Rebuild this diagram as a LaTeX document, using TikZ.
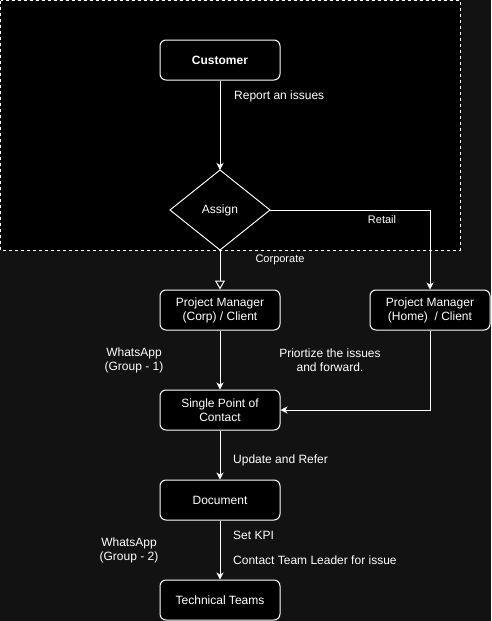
\documentclass[tikz,border=0pt]{standalone}
\usepackage{fontspec}
\setmainfont{Liberation Sans}
\usetikzlibrary{arrows.meta}
\definecolor{pagebg}{HTML}{121212}
\begin{document}
\begin{tikzpicture}[x=1pt,y=-1pt,
  every node/.style={text=white},
  box/.style={draw=white, fill=black, line width=1pt, rounded corners=6pt,
    minimum width=120pt, minimum height=40pt, inner sep=0pt, align=center,
    font=\fontsize{12}{14}\selectfont},
  decision/.style={draw=white, fill=black, line width=1pt, shape=coordinate},
  lbl/.style={font=\fontsize{12}{14}\selectfont, inner sep=0pt, align=center},
  smalllbl/.style={font=\fontsize{11}{13}\selectfont, inner sep=0pt},
  link/.style={draw=white, line width=1pt, -{Stealth[length=7pt,width=7pt,inset=2pt]}},
  openlink/.style={draw=white, line width=1pt, -{Triangle[open,length=9pt,width=10pt,fill=pagebg]}}
]
% canvas and dashed intake region
\fill[pagebg] (0,0) rectangle (491,621);
\useasboundingbox (0,0) rectangle (491,621);
\draw[white, fill=black, line width=1pt, dash pattern=on 3pt off 3pt] (0.5,0.5) rectangle (460,250);

% nodes
\node[box, font=\fontsize{12}{14}\selectfont\bfseries] (cust) at (220,60) {Customer};
\coordinate (assignN) at (220,170);
\coordinate (assignE) at (270,210);
\coordinate (assignS) at (220,250);
\coordinate (assignW) at (170,210);
\draw[white, fill=black, line width=1pt] (assignN) -- (assignE) -- (assignS) -- (assignW) -- cycle;
\node[lbl] (assign) at (220,210) {Assign};
\node[box] (pmc) at (220,310) {Project Manager\\(Corp) / Client};
\node[box] (pmh) at (430,310) {Project Manager\\(Home)\ \ / Client};
\node[box] (spoc) at (220,410) {Single Point of\\Contact};
\node[box] (doc) at (220,500) {Document};
\node[box] (tech) at (220,600) {Technical Teams};

% connectors
\draw[link] (cust.south) -- (assignN);
\draw[link] (assignE) -| (pmh.north);
\draw[openlink] (assignS) -- (pmc.north);
\draw[link] (pmc.south) -- (spoc.north);
\draw[link] (pmh.south) |- (spoc.east);
\draw[link] (spoc.south) -- (doc.north);
\draw[link] (doc.south) -- (tech.north);

% labels
\node[lbl, anchor=west] (lreport) at (234,96) {Report an issues};
\node[smalllbl] (lretail) at (382,220) {Retail};
\node[smalllbl] (lcorp) at (280,260) {Corporate};
\node[lbl] (lwa1) at (134,360) {WhatsApp\\(Group - 1)};
\node[lbl] (lprio) at (330,360) {Priortize the issues\\and forward.};
\node[lbl, anchor=west] (lupdate) at (233,460) {Update and Refer};
\node[lbl, anchor=west] (lkpi) at (233,535) {Set KPI};
\node[lbl, anchor=west] (lcontact) at (233,560) {Contact Team Leader for issue};
\node[lbl] (lwa2) at (129,550) {WhatsApp\\(Group - 2)};
\end{tikzpicture}
\end{document}
